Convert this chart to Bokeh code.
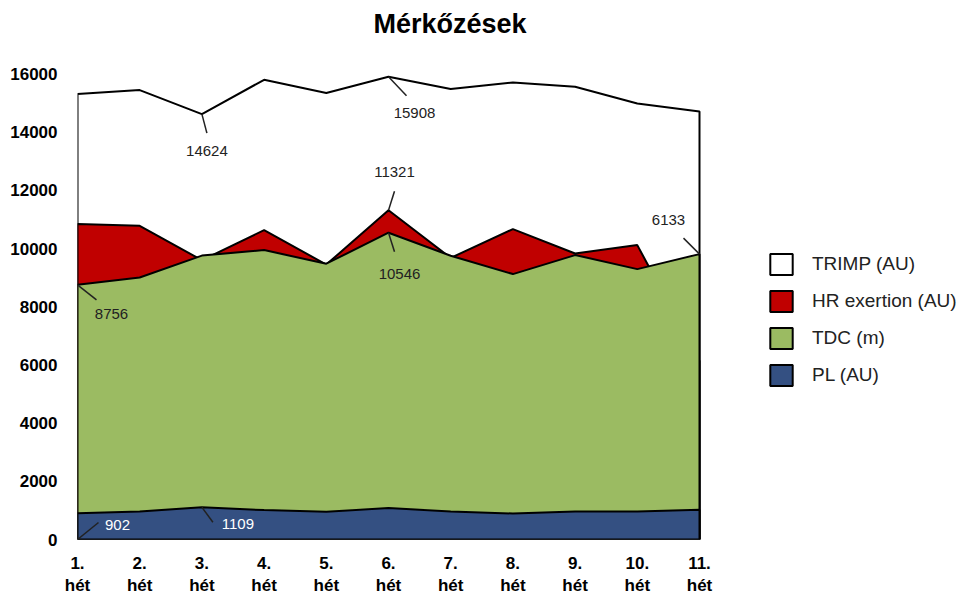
from bokeh.plotting import figure
from bokeh.models import (ColumnDataSource, FixedTicker, Legend, LegendItem,
                          Title, Range1d)
from bokeh.embed import file_html
from bokeh.resources import INLINE
from bokeh.core.properties import value

# ---------------- data ----------------
weeks = [1, 2, 3, 4, 5, 6, 7, 8, 9, 10, 11]
week_labels = ["1.\nhét", "2.\nhét", "3.\nhét", "4.\nhét", "5.\nhét", "6.\nhét",
               "7.\nhét", "8.\nhét", "9.\nhét", "10.\nhét", "11.\nhét"]
trimp = [15311, 15449, 14624, 15803, 15346, 15908, 15483, 15710, 15562, 14988, 14713]
hr_exertion = [10842, 10784, 9600, 10636, 9450, 11321, 9680, 10670, 9830, 10120, 6133]
tdc = [8756, 9007, 9760, 9949, 9480, 10546, 9753, 9124, 9777, 9295, 9811]
pl = [902, 963, 1109, 1010, 952, 1079, 963, 894, 963, 963, 1021]
y_ticks = [0, 2000, 4000, 6000, 8000, 10000, 12000, 14000, 16000]

series_names = ["TRIMP (AU)", "HR exertion (AU)", "TDC (m)", "PL (AU)"]
series_colors = ["#FFFFFF", "#C00000", "#9BBB62", "#345082"]

# ---------------- figure ----------------
FONT = "Liberation Sans"
W, H = 963, 598
ML, MR, MT, MB = 77, 0, 44, 59
PX_X = 62.2        # pixels per week
PX_Y = 0.02909     # pixels per unit
X0 = 1
X1 = X0 + (W - ML - MR) / PX_X
Y0 = 0
Y1 = (H - MT - MB) / PX_Y

p = figure(width=W, height=H, x_range=Range1d(X0, X1), y_range=Range1d(Y0, Y1),
           output_backend="svg", toolbar_location=None, title=None,
           min_border_left=ML, min_border_right=MR,
           min_border_top=MT, min_border_bottom=MB)
p.outline_line_color = None
p.xgrid.grid_line_color = None
p.ygrid.grid_line_color = None
p.background_fill_color = "white"

renderers = []
for vals, col in zip([trimp, hr_exertion, tdc, pl], series_colors):
    xs = weeks + weeks[::-1]
    ys = list(vals) + [0] * len(vals)
    r = p.patch(xs, ys, fill_color=col, line_color="black", line_width=2)
    renderers.append(r)

# ---------------- axes ----------------
p.yaxis.ticker = FixedTicker(ticks=y_ticks)
p.xaxis.ticker = FixedTicker(ticks=weeks)
p.xaxis.major_label_overrides = {w: lab for w, lab in zip(weeks, week_labels)}
for ax in (p.xaxis, p.yaxis):
    ax.axis_line_color = None
    ax.major_tick_line_color = None
    ax.minor_tick_line_color = None
    ax.major_tick_out = 0
    ax.major_tick_in = 0
    ax.minor_tick_out = 0
    ax.minor_tick_in = 0
    ax.major_label_text_font = FONT
    ax.major_label_text_font_style = "bold"
    ax.major_label_text_color = "black"
p.yaxis.major_label_text_font_size = "17px"
p.yaxis.major_label_standoff = 20
p.xaxis.major_label_text_font_size = "17px"
p.xaxis.major_label_text_line_height = 1.2
p.xaxis.major_label_standoff = 14

# ---------------- annotations ----------------
ann_week = [2, 5, 5, 5, 10, 0, 0, 2]
ann_anchor = [trimp[2], trimp[5], hr_exertion[5], tdc[5], tdc[10], tdc[0], 0, pl[2]]
ann_text = [str(trimp[2]), str(trimp[5]), str(hr_exertion[5]), str(tdc[5]),
            str(hr_exertion[10]), str(tdc[0]), str(pl[0]), str(pl[2])]
ann_line = [(5, 19), (18, 19), (6, -19), (6, 19), (-16, -16), (19, 15), (21, -17), (11, 15)]
ann_tpos = [(5, 37), (26, 36), (6, -38), (11, 41), (-31, -34), (34, 29), (40, -15), (36, 17)]
ann_color = ["#222222"] * 6 + ["#FFFFFF", "#FFFFFF"]

ax0 = [weeks[i] for i in ann_week]
ay0 = list(ann_anchor)
ax1 = [x + d[0] / PX_X for x, d in zip(ax0, ann_line)]
ay1 = [y - d[1] / PX_Y for y, d in zip(ay0, ann_line)]
tx = [x + d[0] / PX_X for x, d in zip(ax0, ann_tpos)]
ty = [y - d[1] / PX_Y for y, d in zip(ay0, ann_tpos)]

p.segment(x0=ax0, y0=ay0, x1=ax1, y1=ay1, line_color="#222222", line_width=1.5)
src = ColumnDataSource(dict(x=tx, y=ty, text=ann_text, color=ann_color))
p.text(x="x", y="y", text="text", source=src, text_color="color",
       text_font=value(FONT), text_font_size="15px",
       text_align="center", text_baseline="middle")

# ---------------- legend ----------------
legend = Legend(items=[LegendItem(label=n, renderers=[r])
                       for n, r in zip(series_names, renderers)],
                location=(690, 151))
legend.glyph_width = 28
legend.glyph_height = 26
legend.label_height = 26
legend.spacing = 11
legend.label_standoff = 17
legend.padding = 0
legend.margin = 0
legend.border_line_color = None
legend.background_fill_alpha = 0
legend.label_text_font = FONT
legend.label_text_font_size = "19px"
legend.label_text_color = "#222222"
p.add_layout(legend)

# ---------------- title ----------------
title = Title(text="Mérkőzések", align="left", offset=296,
              text_font=FONT, text_font_size="27px", text_font_style="bold",
              text_color="black", standoff=12)
p.add_layout(title, "above")

open("out.html", "w").write(file_html(p, INLINE))
